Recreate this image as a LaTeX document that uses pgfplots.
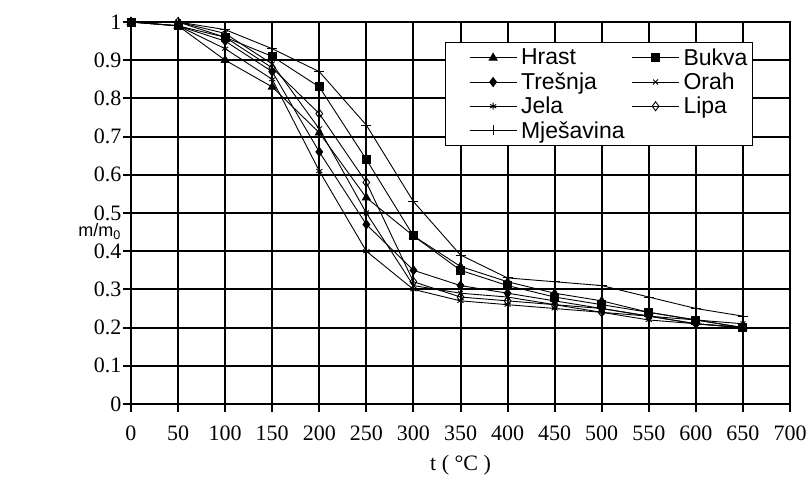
\documentclass[border=0pt]{standalone}
\usepackage{fontspec}
\setmainfont{Liberation Serif}
\newfontfamily\arial{Liberation Sans}
\usepackage{pgfplots}
\pgfplotsset{compat=1.18}
\begin{document}
\begin{tikzpicture}
\begin{axis}[name=ax, scale only axis, width=659pt, height=382pt,
  xmin=0, xmax=700, ymin=0, ymax=1,
  xtick={0,50,...,700}, ytick={0,0.1,...,1},
  grid=major, grid style={black, line width=2pt},
  axis line style={black, line width=2pt},
  tick style={black, line width=2pt}, tick pos=left, tick align=outside,
  major tick length=8pt,
  /pgf/number format/assume math mode=true,
  tick label style={font=\fontsize{22}{23}\selectfont},
  xticklabel style={yshift=-10pt},
  yticklabel style={xshift=2pt},
  xlabel={t ( °C )}, xlabel style={font=\fontsize{22}{23}\selectfont, yshift=-8pt},
  ylabel={\arial m/m\textsubscript{0}},
  ylabel style={rotate=-90, font=\fontsize{18}{19}\selectfont, inner sep=0pt, at={(rel axis cs:0,0.452)}, anchor=east, xshift=-10pt},
  legend columns=2, legend cell align=left,
  legend style={at={(rel axis cs:0.476,0.947)}, anchor=north west, draw=black, line width=1pt,
    fill=white, font=\arial\fontsize{23}{25}\selectfont, row sep=2pt, inner xsep=3pt, inner ysep=4pt,
    /tikz/every odd column/.append style={column sep=2pt},
    /tikz/every even column/.append style={column sep=-16pt}},
  legend image code/.code={\path (-21pt,0pt); \draw[#1] (0pt,0pt) -- (47pt,0pt); \draw[#1, mark repeat=2, mark phase=2] plot coordinates {(0pt,0pt) (23.5pt,0pt) (47pt,0pt)};},
  every axis plot/.append style={black, line width=0.9pt, mark size=4.5pt, mark options={solid}},
]
\addplot[mark=triangle*] coordinates {(0,1) (50,0.99) (100,0.90) (150,0.83) (200,0.71) (250,0.54) (300,0.44) (350,0.36) (400,0.32) (450,0.29) (500,0.27) (550,0.24) (600,0.22) (650,0.20)};
\addlegendentry{Hrast}
\addplot[mark=square*, mark size=4pt] coordinates {(0,1) (50,0.99) (100,0.96) (150,0.91) (200,0.83) (250,0.64) (300,0.44) (350,0.35) (400,0.31) (450,0.28) (500,0.26) (550,0.24) (600,0.22) (650,0.20)};
\addlegendentry{Bukva}
\addplot[mark=diamond*] coordinates {(0,1) (50,0.99) (100,0.95) (150,0.87) (200,0.66) (250,0.47) (300,0.35) (350,0.31) (400,0.29) (450,0.27) (500,0.25) (550,0.23) (600,0.21) (650,0.20)};
\addlegendentry{Trešnja}
\addplot[mark=x, mark size=3.5pt] coordinates {(0,1) (50,1.0) (100,0.97) (150,0.89) (200,0.72) (250,0.50) (300,0.31) (350,0.29) (400,0.28) (450,0.26) (500,0.25) (550,0.23) (600,0.22) (650,0.21)};
\addlegendentry{Orah}
\addplot[mark=asterisk, mark size=3.5pt] coordinates {(0,1) (50,0.99) (100,0.93) (150,0.85) (200,0.61) (250,0.40) (300,0.30) (350,0.27) (400,0.26) (450,0.25) (500,0.24) (550,0.22) (600,0.21) (650,0.20)};
\addlegendentry{Jela}
\addplot[mark=diamond, mark options={fill=white}] coordinates {(0,1) (50,1.0) (100,0.96) (150,0.88) (200,0.76) (250,0.58) (300,0.32) (350,0.28) (400,0.27) (450,0.26) (500,0.24) (550,0.23) (600,0.21) (650,0.20)};
\addlegendentry{Lipa}
\addplot[mark=+, mark size=5pt] coordinates {(0,1) (50,1.0) (100,0.98) (150,0.93) (200,0.87) (250,0.73) (300,0.53) (350,0.39) (400,0.33) (450,0.32) (500,0.31) (550,0.28) (600,0.25) (650,0.23)};
\addlegendentry{Mješavina}
\end{axis}
\pgfresetboundingbox
\path[use as bounding box] ([xshift=-131pt,yshift=-82pt]ax.south west) rectangle ([xshift=20pt,yshift=22pt]ax.north east);
\end{tikzpicture}
\end{document}
